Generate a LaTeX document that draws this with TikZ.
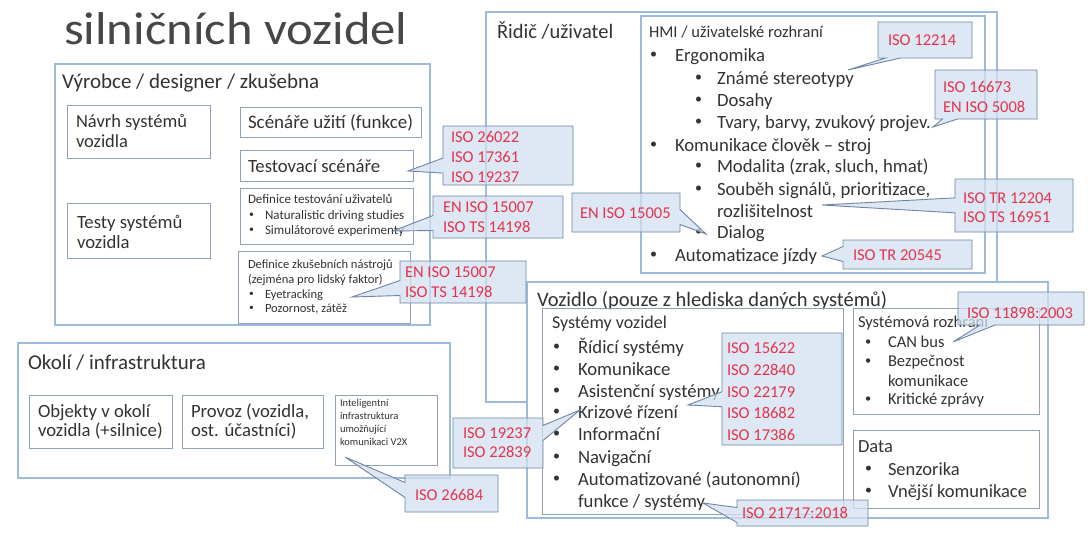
\documentclass[tikz,border=0pt]{standalone}
\usepackage{fontspec}
\setmainfont{Carlito}
\usetikzlibrary{shapes.callouts}
\definecolor{obox}{HTML}{9DBBDB}
\definecolor{ibox}{HTML}{8FA2B8}
\definecolor{cfill}{HTML}{D3E0F1}
\definecolor{cdraw}{HTML}{6F86A3}
\definecolor{isored}{HTML}{E4344C}
\definecolor{txtc}{HTML}{333333}
\tikzset{
  outerbox/.style={draw=obox, line width=1.2pt},
  innerbox/.style={draw=ibox, line width=0.9pt},
  txt/.style={inner sep=0pt, outer sep=0pt, text=txtc},
  redtxt/.style={inner sep=0pt, outer sep=0pt, text=isored},
  callbox/.style={rectangle callout, draw=cdraw, fill=cfill, fill opacity=0.75,
    line width=0.9pt, inner sep=0pt, outer sep=0pt, callout pointer width=15pt}
}
\newcommand\bx[6][]{\node[#1, minimum width={(#5-#3)*1pt}, minimum height={(#6-#4)*1pt}, anchor=north west, inner sep=0pt, outer sep=0pt] (#2) at (#3,#4) {};}
\newcommand\tx[5]{\node[txt, font=\fontsize{#2}{#2}\selectfont, anchor=base west] (#1) at (#3,{#4+0.3*#2}) {#5};}
\newcommand\rt[4]{\node[redtxt, font=\fontsize{16.5}{16.5}\selectfont, anchor=base west] (#1) at (#2,{#3+5}) {#4};}
\newcommand\bul[6]{\node[txt, font=\fontsize{#2}{#2}\selectfont, anchor=west] (#1-b) at (#3,{#5-0.02*#2}) {\scalebox{0.75}{•}};
  \node[txt, font=\fontsize{#2}{#2}\selectfont, anchor=base west] (#1) at (#4,{#5+0.3*#2}) {#6};}
\newcommand\co[6]{\node[callbox, minimum width={(#4-#2)*1pt}, minimum height={(#5-#3)*1pt}, callout absolute pointer={(#6)}] (#1) at ({(#2+#4)/2},{(#3+#5)/2}) {};}
\begin{document}
\begin{tikzpicture}[x=1pt,y=-1pt]
\useasboundingbox[fill=white] (0,0) rectangle (1088,533);

% title
\node[txt, text=black!72, font=\fontsize{46}{46}\selectfont, anchor=base west, xscale=1.1] (title) at (64,44) {silničních vozidel};

% ---------- Vyrobce ----------
\bx[outerbox]{vyr}{55}{64}{430}{325}
\tx{vyrT}{21}{62}{82}{Výrobce / designer / zkušebna}
\bx[innerbox]{navrh}{67}{105}{210}{158}
\tx{navrh1}{18.5}{76}{122}{Návrh systémů}
\tx{navrh2}{18.5}{76}{142}{vozidla}
\bx[innerbox]{scen}{240}{107}{421}{137}
\tx{scenT}{19}{248}{123}{Scénáře užití (funkce)}
\bx[innerbox]{test}{240}{150}{413}{181}
\tx{testT}{18.7}{248}{167}{Testovací scénáře}
\bx[innerbox]{defu}{240}{188}{413}{244}
\tx{defu1}{13}{248}{200}{Definice testování uživatelů}
\bul{defu2}{13}{249}{265}{216}{Naturalistic driving studies}
\bul{defu3}{13}{249}{265}{231}{Simulátorové experimenty}
\bx[innerbox]{testy}{67}{203}{210}{258}
\tx{testy1}{18.7}{77}{223}{Testy systémů}
\tx{testy2}{18.7}{77}{243}{vozidla}
\bx[innerbox]{defz}{238}{251}{410}{323}
\tx{defz1}{12.5}{248}{265}{Definice zkušebních nástrojů}
\tx{defz2}{12.5}{248}{280}{(zejména pro lidský faktor)}
\bul{defz3}{12.5}{249}{265}{295}{Eyetracking}
\bul{defz4}{12.5}{249}{265}{309}{Pozornost, zátěž}

% ---------- Okoli ----------
\bx[outerbox]{oko}{18}{343}{450}{478}
\tx{okoT}{21}{28}{363}{Okolí / infrastruktura}
\bx[innerbox]{obj}{29}{395}{172}{448}
\tx{obj1}{18.7}{38}{412}{Objekty v okolí}
\tx{obj2}{18.7}{38}{431}{vozidla (+silnice)}
\bx[innerbox]{prov}{182}{395}{323}{448}
\tx{prov1}{18.7}{191}{412}{Provoz (vozidla,}
\tx{prov2}{18.7}{191}{431}{ost. účastníci)}
\bx[innerbox]{intel}{335}{395}{437}{465}
\tx{intel1}{10.5}{340}{403}{Inteligentní}
\tx{intel2}{10.5}{340}{416}{infrastruktura}
\tx{intel3}{10.5}{340}{429}{umožňující}
\tx{intel4}{10.5}{340}{442}{komunikaci V2X}

% ---------- Ridic ----------
\bx[outerbox]{ridic}{486}{12}{997}{402}
\tx{ridicT}{20.5}{497}{32}{Řidič /uživatel}
\bx[outerbox]{hmi}{641}{16}{985}{273}
\tx{hmiT}{16.5}{649}{33}{HMI / uživatelské rozhraní}
\bul{h1}{18.7}{650}{675}{56}{Ergonomika}
\bul{h2}{18.7}{695}{717}{79}{Známé stereotypy}
\bul{h3}{18.7}{695}{717}{101}{Dosahy}
\bul{h4}{18.7}{695}{717}{123}{Tvary, barvy, zvukový projev.}
\bul{h5}{18.7}{650}{675}{146}{Komunikace člověk – stroj}
\bul{h6}{18.7}{695}{717}{167}{Modalita (zrak, sluch, hmat)}
\bul{h7}{18.7}{695}{717}{190}{Souběh signálů, prioritizace,}
\tx{h7b}{18.7}{717}{212}{rozlišitelnost}
\bul{h8}{18.7}{695}{717}{233}{Dialog}
\bul{h9}{18.7}{650}{675}{256}{Automatizace jízdy}

% ---------- Vozidlo ----------
\bx[outerbox, fill=white]{voz}{527}{282}{1048}{518}
\tx{vozT}{20.5}{537}{300}{Vozidlo (pouze z hlediska daných systémů)}
\bx[innerbox]{sysv}{542}{308}{843}{514}
\tx{sysvT}{18}{552}{323}{Systémy vozidel}
\bul{s1}{18.7}{553}{578}{348}{Řídicí systémy}
\bul{s2}{18.7}{553}{578}{370}{Komunikace}
\bul{s3}{18.7}{553}{578}{392}{Asistenční systémy}
\bul{s4}{18.7}{553}{578}{413}{Krizové řízení}
\bul{s5}{18.7}{553}{578}{435}{Informační}
\bul{s6}{18.7}{553}{578}{458}{Navigační}
\bul{s7}{18.7}{553}{578}{480}{Automatizované (autonomní)}
\tx{s7b}{18.7}{578}{502}{funkce / systémy}
\bx[innerbox]{sysr}{853}{308}{1039}{414}
\tx{sysrT}{16.5}{858}{323}{Systémová rozhraní}
\bul{r1}{16.5}{865}{888}{343}{CAN bus}
\bul{r2}{16.5}{865}{888}{362}{Bezpečnost}
\tx{r2b}{16.5}{888}{382}{komunikace}
\bul{r3}{16.5}{865}{888}{400}{Kritické zprávy}
\bx[innerbox]{data}{853}{430}{1039}{508}
\tx{dataT}{18.5}{858}{447}{Data}
\bul{d1}{18.5}{865}{888}{470}{Senzorika}
\bul{d2}{18.5}{865}{888}{492}{Vnější komunikace}

% ---------- callouts ----------
\coordinate (p1) at (848,70);
\coordinate (p2) at (933,127);
\coordinate (p3) at (822,205);
\coordinate (p4) at (822,256);
\coordinate (p5) at (706,234);
\coordinate (p6) at (408,171);
\coordinate (p7) at (393,231);
\coordinate (p8) at (352,297);
\coordinate (p9) at (580,410);
\coordinate (p10) at (345,457);
\coordinate (p11) at (688,405);
\coordinate (p12) at (703,503);
\coordinate (p13) at (953,342);

\co{c1}{878}{22}{972}{58}{p1}
\co{c2}{935}{70}{1037}{119}{p2}
\co{c3}{955}{179}{1073}{232}{p3}
\co{c4}{843}{240}{972}{269}{p4}
\co{c5}{572}{193}{680}{232}{p5}
\co{c6}{443}{126}{573}{185}{p6}
\co{c7}{433}{196}{563}{238}{p7}
\co{c8}{400}{261}{526}{303}{p8}
\co{c9}{453}{418}{543}{468}{p9}
\co{c10}{405}{475}{498}{512}{p10}
\co{c11}{722}{333}{842}{445}{p11}
\co{c12}{737}{500}{868}{526}{p12}
\co{c13}{958}{292}{1084}{325}{p13}

\rt{c1a}{888}{40}{ISO 12214}
\rt{c2a}{943}{87}{ISO 16673}
\rt{c2b}{943}{107}{EN ISO 5008}
\rt{c3a}{963}{198}{ISO TR 12204}
\rt{c3b}{963}{217}{ISO TS 16951}
\rt{c4a}{853}{255}{ISO TR 20545}
\rt{c5a}{580}{213}{EN ISO 15005}
\rt{c6a}{451}{137}{ISO 26022}
\rt{c6b}{451}{157}{ISO 17361}
\rt{c6c}{451}{177}{ISO 19237}
\rt{c7a}{443}{207}{EN ISO 15007}
\rt{c7b}{443}{227}{ISO TS 14198}
\rt{c8a}{405}{272}{EN ISO 15007}
\rt{c8b}{405}{292}{ISO TS 14198}
\rt{c9a}{463}{433}{ISO 19237}
\rt{c9b}{463}{452}{ISO 22839}
\rt{c10a}{415}{495}{ISO 26684}
\rt{c11a}{727}{348}{ISO 15622}
\rt{c11b}{727}{370}{ISO 22840}
\rt{c11c}{727}{392}{ISO 22179}
\rt{c11d}{727}{413}{ISO 18682}
\rt{c11e}{727}{435}{ISO 17386}
\rt{c12a}{742}{513}{ISO 21717:2018}
\rt{c13a}{967}{313}{ISO 11898:2003}
\end{tikzpicture}
\end{document}
